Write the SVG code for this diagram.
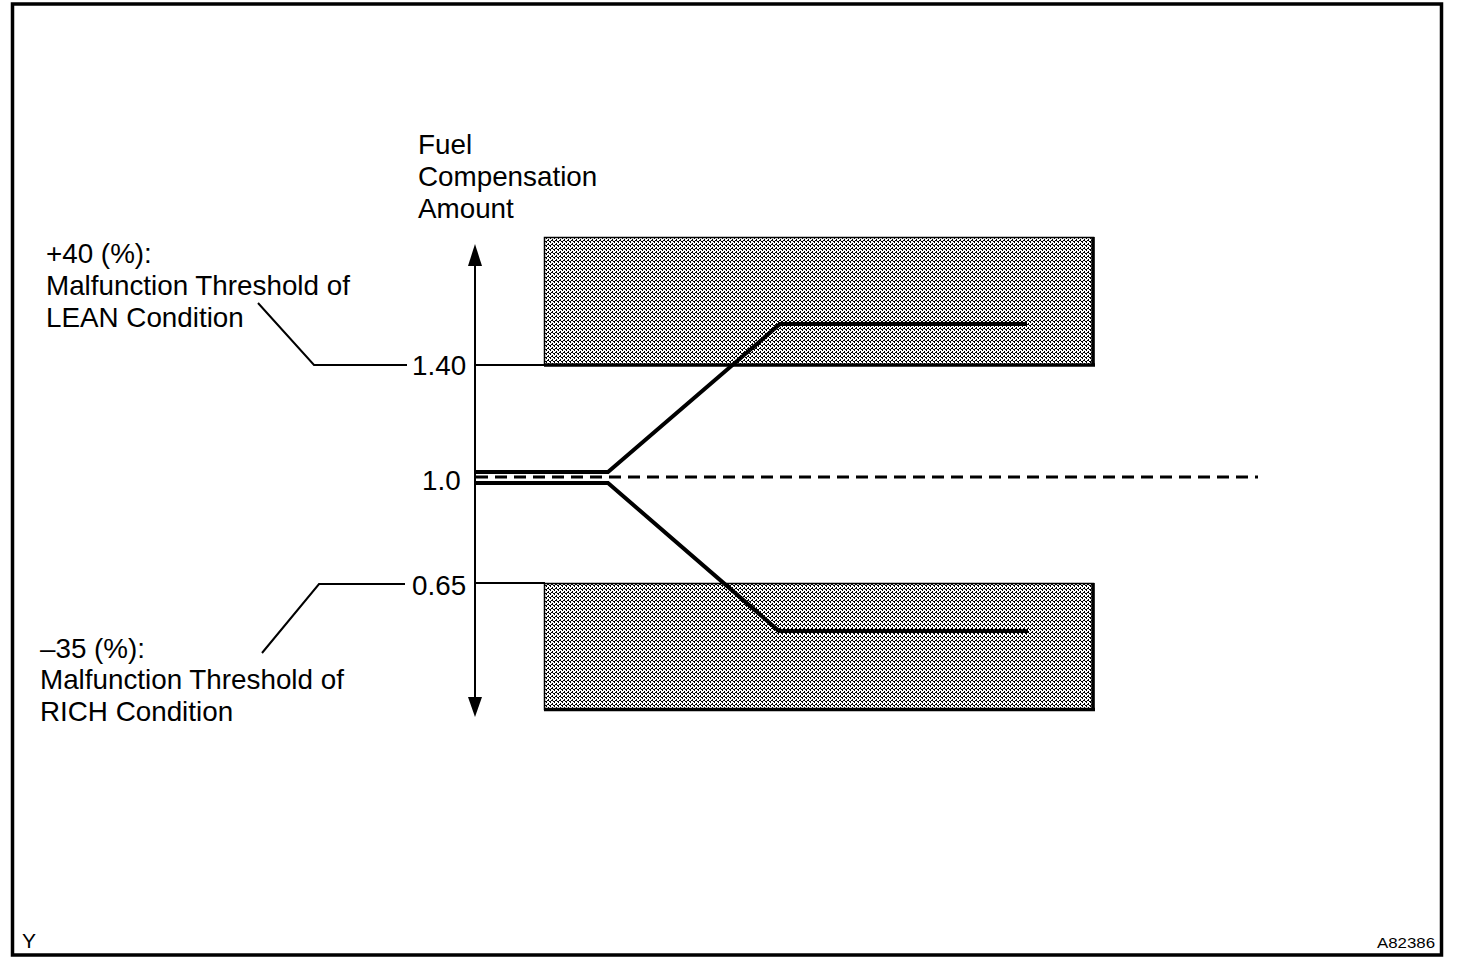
<svg xmlns="http://www.w3.org/2000/svg" width="1472" height="972" viewBox="0 0 1472 972">
<style>
text{font-family:"Liberation Sans",Arial,sans-serif;fill:#000}
.lbl{font-size:27.8px}
.thin{fill:none;stroke:#000;stroke-width:2}
.thick{fill:none;stroke:#000;stroke-width:4}
.dash{fill:none;stroke:#000;stroke-width:3;stroke-dasharray:12 7}
.box{fill:url(#dither);stroke:#000;stroke-width:1.5}
.edge{stroke:#000;stroke-width:3.5;fill:none}
</style>
<defs>
<pattern id="dither" width="4" height="4" patternUnits="userSpaceOnUse">
<rect width="4" height="4" fill="#fff"/>
<g fill="#000" shape-rendering="crispEdges">
<rect x="0" y="0" width="1" height="1"/><rect x="1" y="1" width="1" height="1"/>
<rect x="2" y="2" width="1" height="1"/>
<rect x="3" y="0" width="1" height="1"/><rect x="2" y="1" width="1" height="1"/>
<rect x="0" y="3" width="1" height="1"/>
</g>
</pattern>
</defs>
<rect width="1472" height="972" fill="#fff"/>
<rect x="12.5" y="4" width="1429" height="951" fill="none" stroke="#000" stroke-width="3.5"/>

<g id="lean-zone">
<rect class="box" x="544.5" y="237.5" width="549" height="127.5"/>
<path class="edge" d="M1093,237 V366.5 M544,365 H1095"/>
</g>
<g id="rich-zone">
<rect class="box" x="544.5" y="583.5" width="549" height="126"/>
<path class="edge" d="M1093,583 V711 M544,709.5 H1095"/>
</g>

<g id="axis">
<line class="thin" x1="475" y1="262" x2="475" y2="700"/>
<polygon points="475,244 468,266 482,266"/>
<polygon points="475,717 468,697 482,697"/>
<text class="lbl" x="418" y="154">Fuel</text>
<text class="lbl" x="418" y="186">Compensation</text>
<text class="lbl" x="418" y="218">Amount</text>
</g>

<g id="tick-140">
<text class="lbl" x="412" y="375">1.40</text>
</g>
<g id="tick-10">
<text class="lbl" x="422" y="490">1.0</text>
</g>
<g id="tick-065">
<text class="lbl" x="412" y="595">0.65</text>
</g>

<g id="label-lean">
<text class="lbl" x="46" y="263">+40 (%):</text>
<text class="lbl" x="46" y="295">Malfunction Threshold of</text>
<text class="lbl" x="46" y="327">LEAN Condition</text>
</g>
<g id="label-rich">
<text class="lbl" x="40" y="658">–35 (%):</text>
<text class="lbl" x="40" y="689">Malfunction Threshold of</text>
<text class="lbl" x="40" y="721">RICH Condition</text>
</g>

<g id="connectors">
<path class="thin" d="M475,365 H545"/>
<path class="thin" d="M475,583 H545"/>
<path class="thin" d="M258,303 L314,365 H407"/>
<path class="thin" d="M262,653 L319,584 H405"/>
<path class="dash" d="M476,477 H1258"/>
<path class="thick" d="M475,472 H608 L780,324 H1027"/>
<path class="thick" d="M475,483 H608 L779,631 H1028"/>
</g>

<text x="22" y="948" style="font-size:21px">Y</text>
<text x="1377" y="948" style="font-size:15px" textLength="58" lengthAdjust="spacingAndGlyphs">A82386</text>
</svg>
